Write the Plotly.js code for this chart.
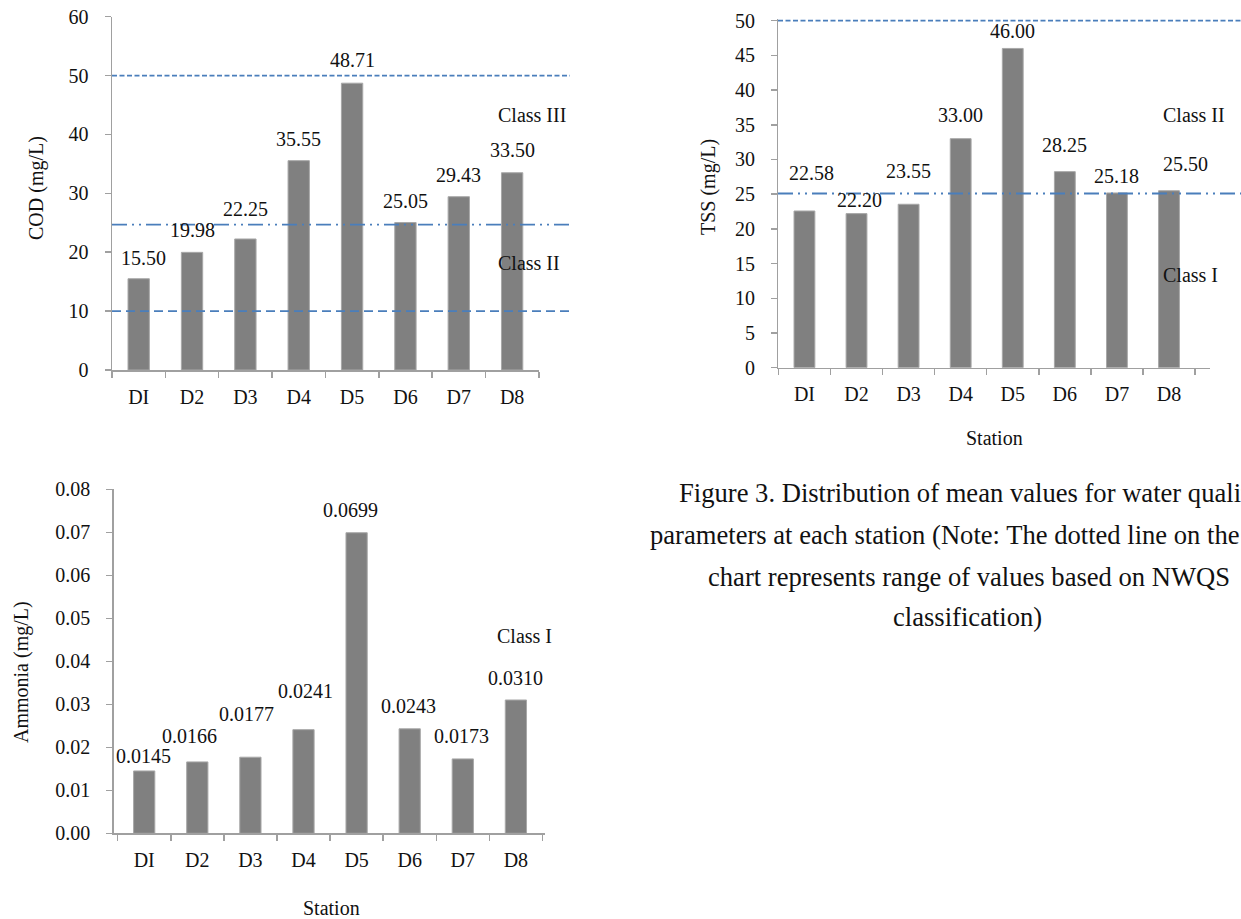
<!DOCTYPE html>
<html>
<head>
<meta charset="utf-8">
<script src="https://cdn.plot.ly/plotly-3.0.1.min.js"></script>
<style>html,body{margin:0;padding:0;background:#fff;}#chart{width:1241px;height:919px;}</style>
</head>
<body>
<div id="chart"></div>
<script>
// ---- data ----
const stations = ['DI', 'D2', 'D3', 'D4', 'D5', 'D6', 'D7', 'D8'];
const codValues = [15.50, 19.98, 22.25, 35.55, 48.71, 25.05, 29.43, 33.50];
const tssValues = [22.58, 22.20, 23.55, 33.00, 46.00, 28.25, 25.18, 25.50];
const ammoniaValues = [0.0145, 0.0166, 0.0177, 0.0241, 0.0699, 0.0243, 0.0173, 0.0310];
const codClassLimits = [50, 24.7, 10];
const tssClassLimits = [50, 25.1];
const codClassLabels = ['Class III', 'Class II'];
const codClassLabelY = [43.3, 18.2];
const tssClassLabels = ['Class II', 'Class I'];
const tssClassLabelY = [36.4, 13.4];
const ammoniaClassLabels = ['Class I'];
const ammoniaClassLabelY = [0.046];
const captionLines = [
  'Figure 3. Distribution of mean values for water quality',
  'parameters at each station (Note: The dotted line on the',
  'chart represents range of values based on NWQS',
  'classification)'
];

// ---- layout tweaks (label offsets in px) ----
const codLabelDy = [21, 22, 30, 22, 23, 22, 22, 23];
const codLabelDx = [5, 0, 0, 0, 0, 0, 0, 0];
const tssLabelDy = [38, 14, 33, 24, 17, 27, 17, 27];
const tssLabelDx = [7, 3, 0, 0, 0, 0, 0, 16];
const nh3LabelDy = [15, 26, 43, 39, 23, 23, 23, 22];
const nh3LabelDx = [-1, -8, -4, 2, -6, -1, -1, 0];

const W = 1241, H = 919;
const px = v => v / W;
const py = v => 1 - v / H;

const FONT = 'Liberation Serif, Times New Roman, serif';
const AX = '#a0a0a0';
const BLUE = '#4a7ebb';
const BAR = '#808080';

function xAxis(domain, anchor) {
  return {
    domain: domain, anchor: anchor, type: 'category',
    showline: true, linecolor: AX, linewidth: 1.5,
    ticks: 'outside', tickson: 'boundaries', ticklen: 6, tickcolor: AX, tickwidth: 1.5,
    tickfont: {family: FONT, size: 20, color: '#111'},
    ticklabelstandoff: 8,
    showgrid: false, zeroline: false, fixedrange: true
  };
}
function yAxis(domain, anchor, range, dtick, fmt) {
  return {
    domain: domain, anchor: anchor, range: range, dtick: dtick, tick0: 0,
    tickformat: fmt,
    showline: true, linecolor: AX, linewidth: 1.5,
    ticks: 'outside', ticklen: 6, tickcolor: AX, tickwidth: 1.5,
    tickfont: {family: FONT, size: 20, color: '#111'},
    ticklabelstandoff: 12,
    showgrid: false, zeroline: false, fixedrange: true
  };
}

const barStyle = {color: BAR, line: {color: '#a8a8a8', width: 1}};
const traces = [
  {type: 'bar', x: stations, y: codValues, xaxis: 'x', yaxis: 'y', marker: barStyle, hoverinfo: 'skip'},
  {type: 'bar', x: stations, y: tssValues, xaxis: 'x2', yaxis: 'y2', marker: barStyle, hoverinfo: 'skip'},
  {type: 'bar', x: stations, y: ammoniaValues, xaxis: 'x3', yaxis: 'y3', marker: barStyle, hoverinfo: 'skip'}
];

const annotations = [];
const txt = () => ({family: FONT, size: 20, color: '#111'});

function addLabels(values, digits, xref, yref, dy, dx) {
  values.forEach((v, i) => {
    annotations.push({
      x: stations[i], y: v, xref: xref, yref: yref,
      text: v.toFixed(digits), showarrow: false,
      xanchor: 'center', yanchor: 'middle',
      yshift: dy[i], xshift: dx[i], font: txt()
    });
  });
}
addLabels(codValues, 2, 'x', 'y', codLabelDy, codLabelDx);
addLabels(tssValues, 2, 'x2', 'y2', tssLabelDy, tssLabelDx);
addLabels(ammoniaValues, 4, 'x3', 'y3', nh3LabelDy, nh3LabelDx);

codClassLabels.forEach((t, i) => annotations.push({
  x: px(496), y: codClassLabelY[i], xref: 'paper', yref: 'y', text: t, showarrow: false,
  xanchor: 'left', yanchor: 'middle', font: txt()
}));
tssClassLabels.forEach((t, i) => annotations.push({
  x: px(1161), y: tssClassLabelY[i], xref: 'paper', yref: 'y2', text: t, showarrow: false,
  xanchor: 'left', yanchor: 'middle', font: txt()
}));
ammoniaClassLabels.forEach((t, i) => annotations.push({
  x: px(495), y: ammoniaClassLabelY[i], xref: 'paper', yref: 'y3', text: t, showarrow: false,
  xanchor: 'left', yanchor: 'middle', font: txt()
}));

// axis titles
const titles = [
  {text: 'COD (mg/L)', x: 37, y: 188, angle: -90},
  {text: 'TSS (mg/L)', x: 709, y: 187, angle: -90},
  {text: 'Ammonia (mg/L)', x: 21, y: 672, angle: -90},
  {text: 'Station', x: 994, y: 438, angle: 0},
  {text: 'Station', x: 331, y: 908, angle: 0}
];
titles.forEach(t => annotations.push({
  x: px(t.x), y: py(t.y), xref: 'paper', yref: 'paper', text: t.text, showarrow: false,
  textangle: t.angle, xanchor: 'center', yanchor: 'middle', font: txt()
}));

// caption
const capX = [677, 648, 706, 891];
const capY = [493, 535, 577, 617];
captionLines.forEach((t, i) => annotations.push({
  x: px(capX[i]), y: py(capY[i]), xref: 'paper', yref: 'paper', text: t, showarrow: false,
  xanchor: 'left', yanchor: 'middle', font: {family: FONT, size: 26.6, color: '#111'}
}));

// class limit lines
const dashes = ['5px,2.5px', '15px,5px,2px,5px,2px,5px', '9px,5px'];
const shapes = [];
codClassLimits.forEach((v, i) => shapes.push({
  type: 'line', xref: 'paper', yref: 'y', x0: px(112), x1: px(570), y0: v, y1: v,
  line: {color: BLUE, width: 1.8, dash: dashes[i]}
}));
tssClassLimits.forEach((v, i) => shapes.push({
  type: 'line', xref: 'paper', yref: 'y2', x0: px(778), x1: 1, y0: v, y1: v,
  line: {color: BLUE, width: 1.8, dash: dashes[i]}
}));

const layout = {
  width: W, height: H,
  margin: {l: 0, r: 0, t: 0, b: 0},
  paper_bgcolor: '#fff', plot_bgcolor: 'rgba(0,0,0,0)',
  showlegend: false, bargap: 0.6,
  font: {family: FONT, size: 20, color: '#111'},
  xaxis: xAxis([px(112), px(538.8)], 'y'),
  yaxis: yAxis([py(370), py(16.7)], 'x', [0, 60], 10),
  xaxis2: xAxis([px(778.4), px(1209.5)], 'y2'),
  yaxis2: yAxis([py(367.7), py(18.6)], 'x2', [0, 50.3], 5),
  xaxis3: xAxis([px(113.7), px(545.4)], 'y3'),
  yaxis3: yAxis([py(833.3), py(489.3)], 'x3', [0, 0.08], 0.01, '.2f'),
  annotations: annotations,
  shapes: shapes
};

Plotly.newPlot('chart', traces, layout, {staticPlot: true, displayModeBar: false});
</script>
</body>
</html>
